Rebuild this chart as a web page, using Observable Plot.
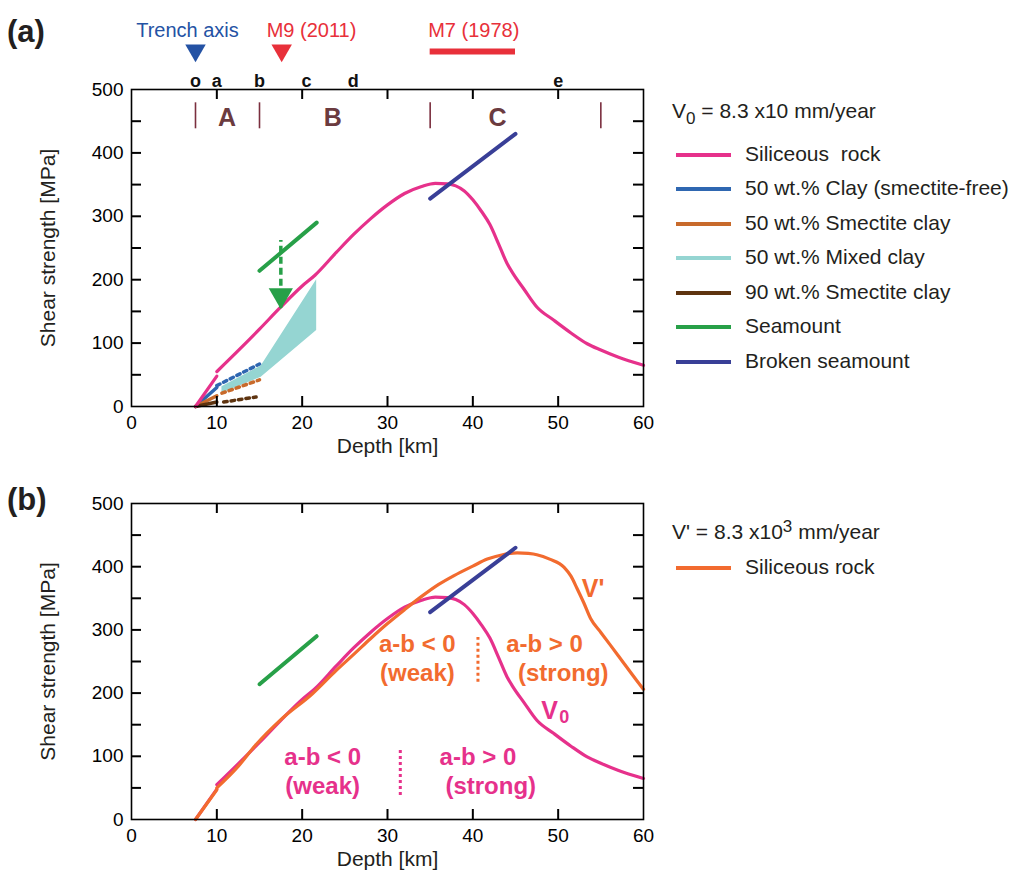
<!DOCTYPE html>
<html><head><meta charset="utf-8">
<script src="https://cdn.jsdelivr.net/npm/d3@7"></script>
<script src="https://cdn.jsdelivr.net/npm/@observablehq/plot@0.6"></script>
<style>
body{margin:0;background:#fff;font-family:"Liberation Sans",Arial,Helvetica,sans-serif;}
#wrap{position:relative;width:1018px;height:882px;overflow:hidden;}
.leg-line{position:absolute;width:55px;height:4px;}
.leg-text{position:absolute;font-size:21px;color:#231f20;line-height:22px;white-space:pre;}
.panel{position:absolute;font-size:31px;font-weight:bold;color:#231f20;line-height:31px;}
</style></head>
<body><div id="wrap"></div>
<script>
// ---------- data ----------
const depthTicks = [0, 10, 20, 30, 40, 50, 60];
const innerDepthTicks = [10, 20, 30, 40, 50];
const strengthTicks = [0, 100, 200, 300, 400, 500];
const strengthMinorTicks = [50, 100, 150, 200, 250, 300, 350, 400, 450];

// Siliceous rock at V0: short initial segment, then main curve
const rockV0StartDepth = [7.5, 10], rockV0StartStrength = [0, 48];
const rockV0Depth    = [10, 12.5, 15, 17.5, 20, 21.5, 24, 26, 28, 30, 32, 34, 35.6, 37, 38, 39, 40, 41, 42, 43, 44, 44.7, 46, 47.5, 49.5, 51.5, 53.4, 55, 57, 60];
const rockV0Strength = [55, 88, 122, 157, 190, 207, 243, 271, 296, 318, 336, 347, 352, 351, 348, 340, 326, 308, 287, 257, 226, 210, 185, 157, 136, 116, 99, 89, 78, 65];

// Siliceous rock at V'
const rockVpStartDepth = [7.5, 10], rockVpStartStrength = [0, 47];
const rockVpDepth    = [10, 12.5, 14.5, 17.5, 21.2, 24, 26.1, 28, 30, 32, 34, 36, 37.8, 40, 41.7, 43.5, 45.2, 46.5, 47.5, 49, 50.7, 51.5, 52.2, 53, 53.8, 55, 57, 59.2, 60];
const rockVpStrength = [50, 84, 117, 158, 199, 236, 262, 286, 310, 332, 353, 372, 386, 401, 412, 419, 422, 421, 419, 412, 399, 385, 366, 343, 318, 296, 260, 220, 206];

// clays (solid part, then dotted extrapolation)
const claySFDepth = [7.5, 10],    claySFStrength = [0, 30];
const claySFDotDepth = [10, 15],  claySFDotStrength = [33, 67];
const smec50Depth = [7.5, 10],    smec50Strength = [0, 17];
const smec50DotDepth = [10.6, 15], smec50DotStrength = [21, 42];
const smec90Depth = [7.5, 10],    smec90Strength = [0, 7];
const smec90DotDepth = [10.8, 14.6], smec90DotStrength = [7, 15];
const mixedDepth = [10.6, 15.2, 21.7], mixedLow = [21, 46, 120], mixedHigh = [31, 64, 200];

// seamounts
const seamountDepth = [15, 21.7], seamountStrength = [214, 290];
const brokenDepth = [35, 45],     brokenStrength = [328, 430];
const arrowDepth = 17.5, arrowFrom = 243, arrowTo = 155;

// zones and sites
const zoneBounds = [7.5, 15, 35, 55], zoneBoundLow = 438, zoneBoundHigh = 479;
const zoneNames = ["A", "B", "C"], zoneDepth = [11.2, 23.6, 42.9], zoneLabelStrength = 455;
const siteNames = ["o", "a", "b", "c", "d", "e"], siteDepth = [7.5, 10, 15, 20.5, 26, 50];
const trenchDepth = 7.5, m9Depth = 17.6, m7Range = [35, 45];

// panel (b) notes
const orangeNotes = ["a-b < 0", "(weak)", "a-b > 0", "(strong)"];
const orangeNoteDepth = [33.5, 33.5, 48.4, 50.6], orangeNoteStrength = [277, 231, 277, 231];
const pinkNotes = ["a-b < 0", "(weak)", "a-b > 0", "(strong)"];
const pinkNoteDepth = [22.4, 22.4, 40.6, 42.1], pinkNoteStrength = [99, 52, 99, 52];
const orangeDivider = {depth: 40.6, from: 217, to: 288};
const pinkDivider = {depth: 31.5, from: 38, to: 112};
const vpLabel = {depth: 54.1, strength: 364};
const v0Label = {depth: 49.0, strength: 172, subDepth: 50.7, subStrength: 162};

// ---------- styles ----------
const C = {
  pink: "#e6318b", blue: "#2f67b1", orange: "#c86a2b", teal: "#95d5d2", brown: "#5e3410",
  green: "#27a048", indigo: "#393f97", vp: "#f26b2f", zone: "#7b2f3f", zoneText: "#6b3b3f",
  trench: "#2452a4", red: "#e8303a", ink: "#231f20"
};
const FONT = '"Liberation Sans", Arial, Helvetica, sans-serif';
const pts = (xs, ys) => xs.map((x, i) => ({x, y: ys[i]}));
const W = 660, ML = 131, MR = 17, FW = W - ML - MR, TICK = 10;

const common = {
  width: W, marginLeft: ML, marginRight: MR,
  x: {domain: [0, 60]}, y: {domain: [0, 500]},
  style: {fontFamily: FONT, fontSize: "19px"}
};
const dots = "3.5,4";

function axesAndTicks(frameH) {
  const ty = TICK * 500 / frameH, tx = TICK * 60 / FW;
  return [
    Plot.axisX(depthTicks, {anchor: "bottom", tickSize: 0, tickPadding: 9, fontSize: 19, label: null}),
    Plot.axisY(strengthTicks, {anchor: "left", tickSize: 0, tickPadding: 8, fontSize: 19, label: null}),
    Plot.frame({stroke: "black", strokeWidth: 1.6}),
    Plot.ruleX(innerDepthTicks, {x: d => d, y1: 0, y2: ty, stroke: "black", strokeWidth: 2}),
    Plot.ruleX(innerDepthTicks, {x: d => d, y1: 500 - ty, y2: 500, stroke: "black", strokeWidth: 2}),
    Plot.ruleY(strengthMinorTicks, {y: d => d, x1: 0, x2: tx, stroke: "black", strokeWidth: 2}),
    Plot.ruleY(strengthMinorTicks, {y: d => d, x1: 60 - tx, x2: 60, stroke: "black", strokeWidth: 2}),
    Plot.text(["Depth [km]"], {frameAnchor: "bottom", dy: 46, fontSize: 21, fill: C.ink}),
    Plot.text(["Shear strength [MPa]"], {frameAnchor: "left", dx: -83, rotate: -90, textAnchor: "middle", fontSize: 21, fill: C.ink})
  ];
}

// ---------- panel (a) ----------
const plotA = Plot.plot({
  ...common, height: 466, marginTop: 89, marginBottom: 60,
  marks: [
    Plot.areaY(mixedDepth.map((x, i) => ({x, lo: mixedLow[i], hi: mixedHigh[i]})), {x: "x", y1: "lo", y2: "hi", fill: C.teal}),
    Plot.line(pts(claySFDotDepth, claySFDotStrength), {x: "x", y: "y", stroke: C.blue, strokeWidth: 3.5, strokeDasharray: dots}),
    Plot.line(pts(smec50DotDepth, smec50DotStrength), {x: "x", y: "y", stroke: C.orange, strokeWidth: 3.5, strokeDasharray: dots}),
    Plot.line(pts(smec90DotDepth, smec90DotStrength), {x: "x", y: "y", stroke: C.brown, strokeWidth: 3.5, strokeDasharray: dots}),
    Plot.line(pts(claySFDepth, claySFStrength), {x: "x", y: "y", stroke: C.blue, strokeWidth: 3.5}),
    Plot.line(pts(smec50Depth, smec50Strength), {x: "x", y: "y", stroke: C.orange, strokeWidth: 3.5}),
    Plot.line(pts(smec90Depth, smec90Strength), {x: "x", y: "y", stroke: C.brown, strokeWidth: 3.5}),
    Plot.line(pts(rockV0StartDepth, rockV0StartStrength), {x: "x", y: "y", stroke: C.pink, strokeWidth: 3.2}),
    Plot.line(pts(rockV0Depth, rockV0Strength), {x: "x", y: "y", stroke: C.pink, strokeWidth: 3.2, curve: "monotone-x"}),
    Plot.line(pts(seamountDepth, seamountStrength), {x: "x", y: "y", stroke: C.green, strokeWidth: 4}),
    Plot.line(pts(brokenDepth, brokenStrength), {x: "x", y: "y", stroke: C.indigo, strokeWidth: 4}),
    Plot.ruleX([arrowDepth], {y1: arrowTo, y2: arrowFrom, stroke: C.green, strokeWidth: 3.5, strokeDasharray: "7,4", insetBottom: 12}),
    Plot.dot([arrowDepth], {x: d => d, y: arrowTo, symbol: "triangle", rotate: 180, r: 9, fill: C.green, stroke: "none", dy: -13}),
    Plot.ruleX(zoneBounds, {x: d => d, y1: zoneBoundLow, y2: zoneBoundHigh, stroke: C.zone, strokeWidth: 1.6}),
    Plot.text(zoneNames, {x: (d, i) => zoneDepth[i], y: zoneLabelStrength, fontSize: 25, fontWeight: "bold", fill: C.zoneText}),
    Plot.text(siteNames, {x: (d, i) => siteDepth[i], frameAnchor: "top", dy: -15, fontSize: 18, fontWeight: "bold", fill: "#111"}),
    Plot.dot([trenchDepth], {x: d => d, frameAnchor: "top", dy: -39, symbol: "triangle", rotate: 180, r: 7.6, fill: C.trench, stroke: "none"}),
    Plot.dot([m9Depth], {x: d => d, frameAnchor: "top", dy: -39, symbol: "triangle", rotate: 180, r: 7.6, fill: C.red, stroke: "none"}),
    Plot.text(["Trench axis"], {x: trenchDepth, frameAnchor: "top", dy: -67, dx: -8, fontSize: 20, fill: C.trench}),
    Plot.text(["M9 (2011)"], {x: m9Depth, frameAnchor: "top", dy: -67, dx: -15, textAnchor: "start", fontSize: 20, fill: C.red}),
    Plot.text(["M7 (1978)"], {x: m7Range[0], frameAnchor: "top", dy: -67, dx: -2, textAnchor: "start", fontSize: 20, fill: C.red}),
    Plot.ruleY([500], {x1: m7Range[0], x2: m7Range[1], dy: -38, stroke: C.red, strokeWidth: 6}),
    ...axesAndTicks(317)
  ]
});

// ---------- panel (b) ----------
const plotB = Plot.plot({
  ...common, height: 412, marginTop: 33, marginBottom: 63,
  marks: [
    Plot.line(pts(seamountDepth, seamountStrength), {x: "x", y: "y", stroke: C.green, strokeWidth: 4}),
    Plot.line(pts(rockV0StartDepth, rockV0StartStrength), {x: "x", y: "y", stroke: C.pink, strokeWidth: 3.2}),
    Plot.line(pts(rockV0Depth, rockV0Strength), {x: "x", y: "y", stroke: C.pink, strokeWidth: 3.2, curve: "monotone-x"}),
    Plot.line(pts(rockVpStartDepth, rockVpStartStrength), {x: "x", y: "y", stroke: C.vp, strokeWidth: 3.2}),
    Plot.line(pts(rockVpDepth, rockVpStrength), {x: "x", y: "y", stroke: C.vp, strokeWidth: 3.2, curve: "monotone-x"}),
    Plot.line(pts(brokenDepth, brokenStrength), {x: "x", y: "y", stroke: C.indigo, strokeWidth: 4}),
    Plot.text(orangeNotes, {x: (d, i) => orangeNoteDepth[i], y: (d, i) => orangeNoteStrength[i], fontSize: 24, fontWeight: "bold", fill: C.vp}),
    Plot.text(pinkNotes, {x: (d, i) => pinkNoteDepth[i], y: (d, i) => pinkNoteStrength[i], fontSize: 24, fontWeight: "bold", fill: C.pink}),
    Plot.ruleX([orangeDivider.depth], {y1: orangeDivider.from, y2: orangeDivider.to, stroke: C.vp, strokeWidth: 3, strokeDasharray: "3,3"}),
    Plot.ruleX([pinkDivider.depth], {y1: pinkDivider.from, y2: pinkDivider.to, stroke: C.pink, strokeWidth: 3, strokeDasharray: "3,3"}),
    Plot.text(["V'"], {x: vpLabel.depth, y: vpLabel.strength, fontSize: 25, fontWeight: "bold", fill: C.vp}),
    Plot.text(["V"], {x: v0Label.depth, y: v0Label.strength, fontSize: 25, fontWeight: "bold", fill: C.pink}),
    Plot.text(["0"], {x: v0Label.subDepth, y: v0Label.subStrength, fontSize: 18, fontWeight: "bold", fill: C.pink}),
    ...axesAndTicks(316)
  ]
});

// ---------- layout ----------
const wrap = document.getElementById("wrap");
function place(el, left, top) { el.style.position = "absolute"; el.style.left = left + "px"; el.style.top = top + "px"; wrap.appendChild(el); }
place(plotA, 0, 0);
place(plotB, 0, 470);

function div(cls, html, left, top, extra) {
  const d = document.createElement("div");
  d.className = cls; d.innerHTML = html;
  d.style.left = left + "px"; d.style.top = top + "px";
  if (extra) Object.assign(d.style, extra);
  wrap.appendChild(d); return d;
}
div("panel", "(a)", 7, 16);
div("panel", "(b)", 7, 484);

const legendA = [
  ["Siliceous  rock", C.pink], ["50 wt.% Clay (smectite-free)", C.blue], ["50 wt.% Smectite clay", C.orange],
  ["50 wt.% Mixed clay", C.teal], ["90 wt.% Smectite clay", C.brown], ["Seamount", C.green], ["Broken seamount", C.indigo]
];
const legendAY = [155, 189, 224, 258, 293, 327, 362];
div("leg-text", 'V<sub style="font-size:17px;vertical-align:-6px">0</sub> = 8.3 x10 mm/year', 672, 100);
legendA.forEach(([t, c], i) => {
  div("leg-line", "", 676, legendAY[i] - 2, {background: c});
  div("leg-text", t, 745, legendAY[i] - 12);
});
div("leg-text", 'V\' = 8.3 x10<sup style="font-size:17px;vertical-align:7px">3</sup> mm/year', 672, 516);
div("leg-line", "", 676, 566, {background: C.vp});
div("leg-text", "Siliceous rock", 745, 556);
</script>
</body></html>
